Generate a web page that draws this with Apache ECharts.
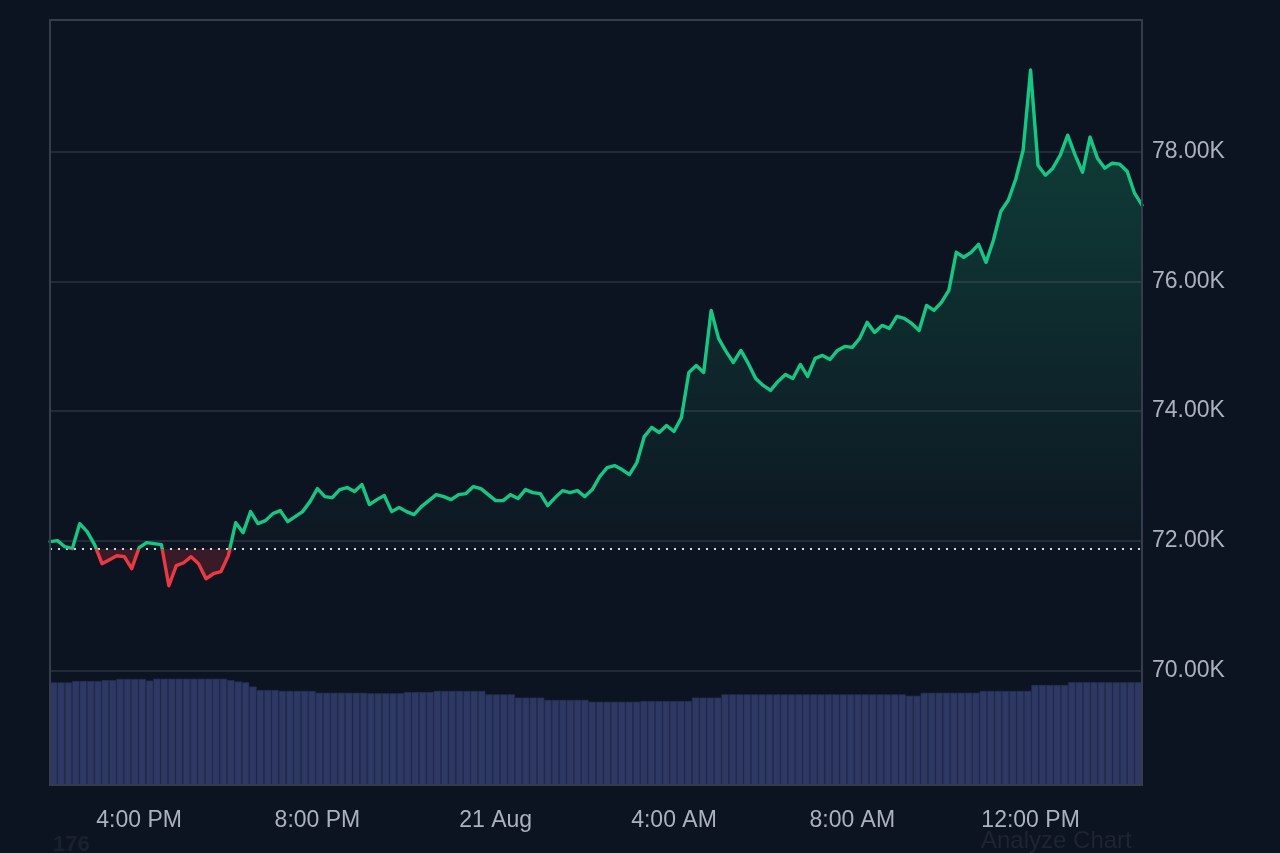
<!DOCTYPE html>
<html>
<head>
<meta charset="utf-8">
<script src="https://cdn.jsdelivr.net/npm/echarts@6/dist/echarts.min.js"></script>
<style>
html,body{margin:0;padding:0;background:#0d1421;}
#chart{width:1280px;height:853px;}
</style>
</head>
<body>
<div id="chart"></div>
<script>
// 10-minute samples, 20 Aug 14:00 -> 21 Aug 14:30
const startHour = 14;
const prevClose = 71870;
const price = [
71985,72000,71907,71876,72263,72139,71938,71645,71707,71768,
71753,71568,71892,71969,71954,71938,71305,71614,71660,71753,
71645,71413,71490,71521,71768,72278,72124,72448,72263,72309,
72417,72463,72293,72371,72448,72602,72803,72680,72664,72788,
72819,72757,72865,72556,72633,72695,72448,72510,72448,72402,
72525,72618,72710,72680,72633,72710,72726,72834,72803,72710,
72618,72618,72710,72649,72788,72741,72726,72541,72664,72772,
72741,72772,72680,72788,72988,73127,73158,73097,73019,73205,
73606,73745,73668,73776,73683,73900,74595,74703,74595,75552,
75120,74919,74749,74934,74734,74502,74394,74317,74456,74564,
74502,74718,74533,74811,74857,74795,74934,74996,74981,75120,
75367,75212,75320,75274,75459,75429,75351,75243,75629,75552,
75676,75861,76448,76371,76448,76571,76293,76633,77081,77251,
77575,78023,79259,77792,77637,77745,77946,78255,77946,77683,
78224,77900,77745,77822,77807,77699,77359,77174
];
// volume (billions, 24h rolling)
const volume = [
44.6,44.6,44.6,45.2,45.2,45.2,45.2,45.6,45.6,46.1,
46.1,46.1,46.1,45.4,46.2,46.2,46.2,46.2,46.2,46.2,
46.2,46.2,46.2,46.2,45.6,45.0,44.6,42.8,41.3,41.3,
41.3,40.9,40.9,40.9,40.9,40.9,40.1,40.1,40.1,40.1,
40.1,40.1,40.1,39.9,39.9,39.9,39.9,39.9,40.4,40.4,
40.4,40.4,40.9,40.9,40.9,40.9,40.9,40.9,40.9,39.4,
39.4,39.4,39.4,38.0,38.0,38.0,38.0,37.0,37.0,37.0,
37.0,37.0,37.0,36.2,36.2,36.2,36.2,36.2,36.2,36.2,
36.5,36.5,36.5,36.5,36.5,36.5,36.5,38.0,38.0,38.0,
38.0,39.4,39.4,39.4,39.4,39.4,39.4,39.4,39.4,39.4,
39.4,39.4,39.4,39.4,39.4,39.4,39.4,39.4,39.4,39.4,
39.4,39.4,39.4,39.4,39.4,39.4,38.8,38.8,40.1,40.1,
40.1,40.1,40.1,40.1,40.1,40.1,40.9,40.9,40.9,40.9,
40.9,40.9,40.9,43.5,43.5,43.5,43.5,43.5,44.7,44.7,
44.7,44.7,44.7,44.7,44.7,44.7,44.7,44.7
];
const tickTimes = ['20 Aug 16:00','20 Aug 20:00','21 Aug 00:00','21 Aug 04:00','21 Aug 08:00','21 Aug 12:00'];
const tickLabels = ['4:00 PM','8:00 PM','21 Aug','4:00 AM','8:00 AM','12:00 PM'];

const times = [];
for (let i = 0; i < price.length; i++) {
  const m = startHour * 60 + i * 10;
  const day = m >= 1440 ? 21 : 20;
  const mm = m % 1440;
  const hh = String(Math.floor(mm / 60)).padStart(2, '0');
  const mi = String(mm % 60).padStart(2, '0');
  times.push(day + ' Aug ' + hh + ':' + mi);
}

const baseArr = price.map(() => prevClose);
const greenDelta = price.map(v => Math.max(v, prevClose) - prevClose);
const redLow = price.map(v => Math.min(v, prevClose));
const redDelta = price.map(v => prevClose - Math.min(v, prevClose));

const GREEN = '#16c784', RED = '#ea3943';
const gridColor = '#2c3140';
const labelColor = '#acb1bf';
const FONT = '"Liberation Sans", Arial, sans-serif';

const chart = echarts.init(document.getElementById('chart'), null, {renderer: 'canvas'});
chart.setOption({
  backgroundColor: '#0d1421',
  animation: false,
  textStyle: {fontFamily: FONT},
  grid: [
    {left: 50, right: 138, top: 22, height: 778},
    {left: 50, right: 138, top: 670, height: 115}
  ],
  xAxis: [
    {type: 'category', gridIndex: 0, data: times, boundaryGap: false, show: false},
    {type: 'category', gridIndex: 1, data: times, boundaryGap: false,
      axisLine: {show: false}, axisTick: {show: false},
      axisLabel: {
        color: labelColor, fontSize: 23, margin: 24, fontFamily: FONT,
        interval: (idx, val) => tickTimes.indexOf(val) >= 0,
        formatter: val => { const k = tickTimes.indexOf(val); return k >= 0 ? tickLabels[k] : ''; }
      }
    },
    {type: 'category', gridIndex: 1, data: times, boundaryGap: true, show: false}
  ],
  yAxis: [
    {type: 'value', gridIndex: 0, position: 'right', min: 68000, max: 80000, interval: 2000,
      axisLine: {show: false}, axisTick: {show: false},
      axisLabel: {color: labelColor, fontSize: 23, margin: 10, fontFamily: FONT, padding: [3, 0, 0, 0],
        formatter: v => (v <= 68000 || v >= 80000) ? '' : (v / 1000).toFixed(2) + 'K'},
      splitLine: {show: true, lineStyle: {width: 1.5,
        color: ['rgba(0,0,0,0)', gridColor, gridColor, gridColor, gridColor, gridColor, 'rgba(0,0,0,0)']}}
    },
    {type: 'value', gridIndex: 1, min: 0, max: 50, show: false, splitLine: {show: false}}
  ],
  visualMap: {
    show: false, type: 'piecewise', seriesIndex: 4, dimension: 1,
    pieces: [
      {gt: prevClose, lte: 100000, color: GREEN},
      {gte: 0, lte: prevClose, color: RED}
    ]
  },
  series: [
    {type: 'line', xAxisIndex: 0, yAxisIndex: 0, stack: 'g', data: baseArr, symbol: 'none',
      lineStyle: {width: 0, opacity: 0}, silent: true, z: 1},
    {type: 'line', xAxisIndex: 0, yAxisIndex: 0, stack: 'g', data: greenDelta, symbol: 'none',
      lineStyle: {width: 0, opacity: 0}, silent: true, z: 1,
      areaStyle: {color: new echarts.graphic.LinearGradient(0, 0, 0, 1, [
        {offset: 0, color: 'rgba(22,199,132,0.36)'},
        {offset: 1, color: 'rgba(22,199,132,0.02)'}
      ])}
    },
    {type: 'line', xAxisIndex: 0, yAxisIndex: 0, stack: 'r', data: redLow, symbol: 'none',
      lineStyle: {width: 0, opacity: 0}, silent: true, z: 1},
    {type: 'line', xAxisIndex: 0, yAxisIndex: 0, stack: 'r', data: redDelta, symbol: 'none',
      lineStyle: {width: 0, opacity: 0}, silent: true, z: 1,
      areaStyle: {color: 'rgba(234,57,67,0.28)'}
    },
    {type: 'line', xAxisIndex: 0, yAxisIndex: 0, data: price, symbol: 'none', z: 5,
      lineStyle: {width: 3.4, join: 'round', cap: 'round'},
      markLine: {
        silent: true, symbol: ['none', 'none'], label: {show: false},
        lineStyle: {color: '#d4d8e0', width: 2, type: [2, 6]},
        data: [{yAxis: prevClose}]
      }
    },
    {type: 'bar', xAxisIndex: 2, yAxisIndex: 1, data: volume, barCategoryGap: '0%',
      itemStyle: {color: '#2d3863', borderColor: '#262f55', borderWidth: 0.7}, z: 0}
  ],
  graphic: [
    {type: 'rect', shape: {x: 50, y: 20, width: 1092, height: 765}, z: 100, silent: true,
      style: {fill: 'none', stroke: '#363c4b', lineWidth: 2}},
    {type: 'text', left: 53, top: 834, z: 100, silent: true,
      style: {text: '176', fill: '#1b2030', font: 'bold 22px "Liberation Sans", Arial, sans-serif'}},
    {type: 'text', left: 981, top: 829, z: 100, silent: true,
      style: {text: 'Analyze Chart', fill: '#1f2432', font: '24px "Liberation Sans", Arial, sans-serif'}}
  ]
});
</script>
</body>
</html>
